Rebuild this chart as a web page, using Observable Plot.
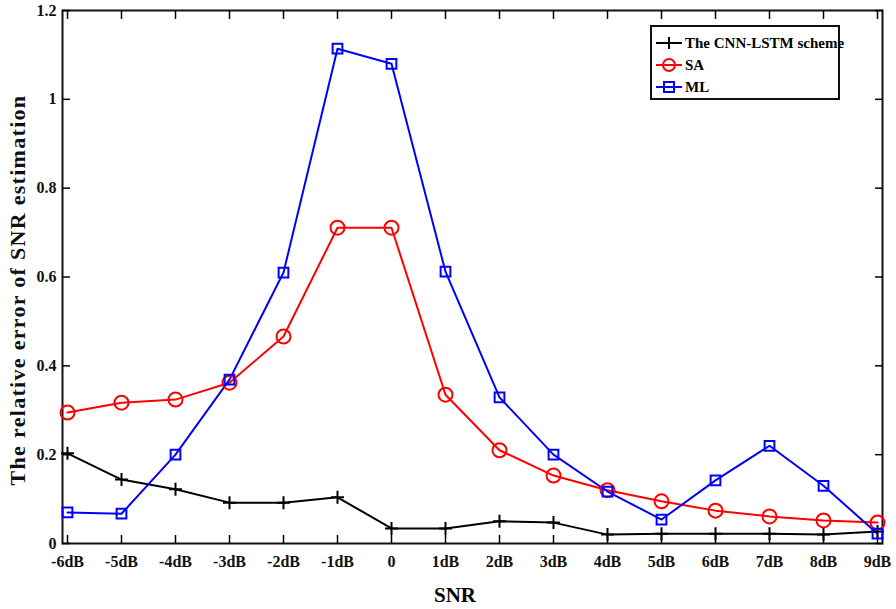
<!DOCTYPE html>
<html><head><meta charset="utf-8">
<script src="https://cdn.jsdelivr.net/npm/d3@7"></script>
<script src="https://cdn.jsdelivr.net/npm/@observablehq/plot@0.6"></script>
<style>
body{margin:0;background:#fff}
#wrap{position:relative;width:896px;height:609px;font-family:"Liberation Serif","Times New Roman",serif;font-weight:bold}
#legend{position:absolute;left:650px;top:25px;width:186px;height:71px;border:2px solid #111;background:#fff;box-sizing:content-box}
.row{position:absolute;left:3px;height:20px;display:flex;align-items:center;font-size:15px;white-space:nowrap}
.row svg{margin-right:2px}
#xlabel{position:absolute;top:583px;left:0;width:896px;text-align:center;padding-left:14px;box-sizing:border-box;font-size:21px}
</style>
</head><body><div id="wrap"></div>
<script>
const snrLabels = ["-6dB","-5dB","-4dB","-3dB","-2dB","-1dB","0","1dB","2dB","3dB","4dB","5dB","6dB","7dB","8dB","9dB"];
const cnnLstm = [0.203,0.144,0.122,0.092,0.092,0.104,0.034,0.034,0.050,0.047,0.020,0.022,0.022,0.022,0.020,0.027];
const sa      = [0.295,0.317,0.324,0.362,0.466,0.711,0.711,0.335,0.210,0.153,0.120,0.095,0.074,0.061,0.052,0.047];
const ml      = [0.070,0.067,0.200,0.369,0.610,1.114,1.080,0.612,0.329,0.200,0.117,0.054,0.142,0.220,0.130,0.022];
const yTicks = [0,0.2,0.4,0.6,0.8,1,1.2];
const seriesNames = ["The CNN-LSTM scheme","SA","ML"];
const seriesColors = ["#000000","#ff0000","#0000ff"];
const yTitle = "The relative error of SNR estimation";
const xTitle = "SNR";

const plusSymbol = {draw(ctx, size){const r = Math.sqrt(size/Math.PI); ctx.moveTo(-r,0); ctx.lineTo(r,0); ctx.moveTo(0,-r); ctx.lineTo(0,r);}};

const seriesValues = [cnnLstm, sa, ml];
const rows = [];
seriesNames.forEach((s,i)=>snrLabels.forEach((x,j)=>rows.push({series:s, snr:x, value:seriesValues[i][j]})));
const bySeries = s => rows.filter(d=>d.series===s);

const chart = Plot.plot({
  width: 896, height: 609,
  marginLeft: 62, marginRight: 14, marginTop: 10, marginBottom: 66,
  style: {fontFamily: '"Liberation Serif","Times New Roman",serif', fontSize: "16px", fontWeight: "bold", background: "#fff"},
  x: {type: "point", domain: snrLabels, padding: 0},
  y: {domain: [0, 1.2]},
  color: {domain: seriesNames, range: seriesColors},
  marks: [
    Plot.frame({stroke: "#111", strokeWidth: 2}),
    Plot.axisX({anchor: "bottom", tickSize: -8, text: null, label: null, strokeWidth: 1.5}),
    Plot.axisX({anchor: "top", tickSize: -8, text: null, label: null, strokeWidth: 1.5}),
    Plot.axisX({anchor: "bottom", tickSize: 0, tickPadding: 12, label: null, fill: "#111"}),
    Plot.axisY({anchor: "left", ticks: yTicks, tickSize: -8, text: null, label: null, strokeWidth: 1.5}),
    Plot.axisY({anchor: "right", ticks: yTicks, tickSize: -8, text: null, label: null, strokeWidth: 1.5}),
    Plot.axisY({anchor: "left", ticks: yTicks, tickSize: 0, tickPadding: 6, tickFormat: d => String(d), label: null, fill: "#111"}),
    Plot.text([yTitle], {frameAnchor: "left", textAnchor: "middle", rotate: -90, dx: -45, dy: 13, fontSize: 22, fontWeight: "bold", fill: "#111"}),
    Plot.line(rows, {x: "snr", y: "value", z: "series", stroke: "series", strokeWidth: 2}),
    Plot.dot(bySeries(seriesNames[0]), {x: "snr", y: "value", symbol: plusSymbol, r: 6.5, stroke: seriesColors[0], strokeWidth: 2}),
    Plot.dot(bySeries(seriesNames[1]), {x: "snr", y: "value", symbol: "circle", r: 7, stroke: seriesColors[1], strokeWidth: 2, fill: "none"}),
    Plot.dot(bySeries(seriesNames[2]), {x: "snr", y: "value", symbol: "square", r: 5.5, stroke: seriesColors[2], strokeWidth: 2, fill: "none"})
  ]
});
const wrap = document.getElementById("wrap");
wrap.appendChild(chart);
d3.select(chart).selectAll("text").filter(function(){return this.textContent === yTitle;}).attr("letter-spacing", "1.3px");

const xl = document.createElement("div");
xl.id = "xlabel"; xl.textContent = xTitle; wrap.appendChild(xl);

const legend = document.createElement("div");
legend.id = "legend";
seriesNames.forEach((name,i)=>{
  const row = document.createElement("div");
  row.className = "row";
  row.style.top = (6 + i*22) + "px";
  const c = seriesColors[i];
  let m = "";
  if (i===0) m = `<path d="M14,2V14" stroke="${c}" stroke-width="2"/>`;
  if (i===1) m = `<ellipse cx="14" cy="8" rx="6" ry="6" fill="none" stroke="${c}" stroke-width="2"/>`;
  if (i===2) m = `<rect x="9" y="3" width="10" height="10" fill="none" stroke="${c}" stroke-width="2"/>`;
  row.innerHTML = `<svg width="28" height="16"><line x1="1" y1="8" x2="27" y2="8" stroke="${c}" stroke-width="2"/>${m}</svg><span>${name}</span>`;
  legend.appendChild(row);
});
wrap.appendChild(legend);
</script>
</body></html>
